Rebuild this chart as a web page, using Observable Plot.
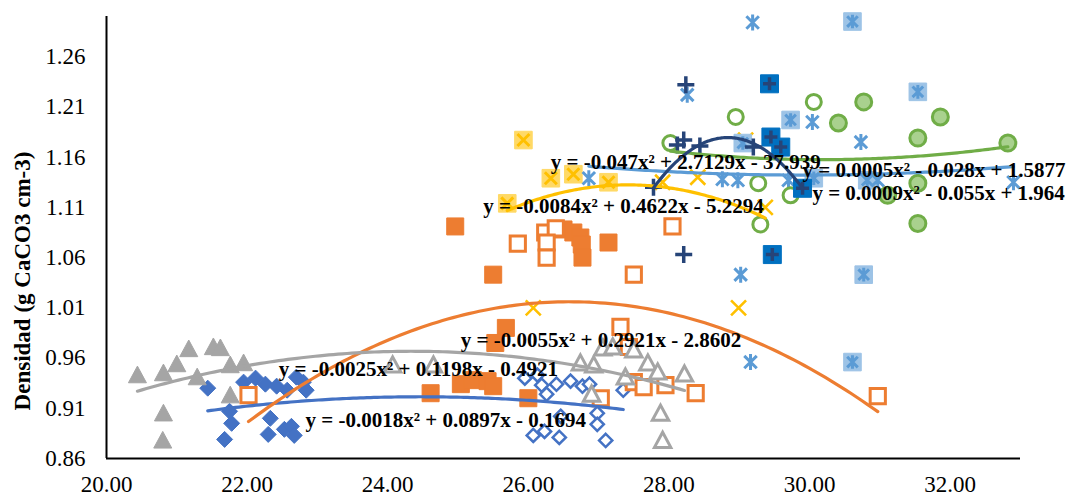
<!DOCTYPE html>
<html><head><meta charset="utf-8">
<script src="https://cdn.jsdelivr.net/npm/d3@7"></script>
<script src="https://cdn.jsdelivr.net/npm/@observablehq/plot@0.6"></script>
<style>
body{margin:0;background:#fff}
#wrap{position:relative;width:1072px;height:498px}
#chart svg{display:block}
#ytitle{position:absolute;left:23px;top:281px;transform:translate(-50%,-50%) rotate(-90deg);font:bold 23px 'Liberation Serif','Times New Roman',serif;white-space:nowrap;color:#000}
</style>
</head><body><div id="wrap"><div id="chart"></div><div id="ytitle"></div></div>
<script>
// ---- data (x = temperature-like variable, y = Densidad) ----
const xTicks = [20, 22, 24, 26, 28, 30, 32];
const yTicks = [0.86, 0.91, 0.96, 1.01, 1.06, 1.11, 1.16, 1.21, 1.26];
const yTitle = "Densidad (g CaCO3 cm-3)";

const blueSolid = [[21.44,0.930],[21.75,0.907],[21.78,0.895],[21.68,0.879],[21.95,0.936],[22.12,0.940],[22.26,0.934],[22.33,0.900],[22.30,0.884],[22.42,0.932],[22.57,0.928],[22.53,0.889],[22.63,0.892],[22.67,0.883],[22.70,0.941],[22.80,0.936],[22.84,0.928]];
const blueOpen = [[25.95,0.940],[26.13,0.943],[26.19,0.933],[26.40,0.934],[26.26,0.924],[26.60,0.937],[26.77,0.932],[26.87,0.934],[27.35,0.928],[26.07,0.883],[26.23,0.887],[26.44,0.881],[26.46,0.902],[26.98,0.905],[26.98,0.894],[27.10,0.878]];

const orangeSolid = [[24.96,1.091],[25.50,1.043],[26.50,1.088],[26.64,1.085],[26.74,1.080],[26.76,1.073],[26.77,1.060],[27.14,1.075],[25.68,0.990],[25.53,0.975],[24.61,0.925],[25.04,0.934],[25.21,0.938],[25.42,0.937],[25.50,0.932],[26.00,0.920]];
const orangeOpen = [[22.02,0.923],[25.85,1.074],[26.24,1.085],[26.39,1.089],[26.26,1.075],[26.26,1.060],[27.50,1.043],[28.05,1.091],[27.31,0.991],[27.43,0.971],[27.03,0.920],[27.50,0.936],[27.64,0.931],[27.95,0.933],[28.38,0.925],[30.97,0.922]];

const graySolid = [[20.44,0.943],[20.81,0.945],[20.81,0.905],[20.80,0.878],[21.00,0.954],[21.17,0.969],[21.29,0.941],[21.52,0.971],[21.62,0.970],[21.76,0.953],[21.95,0.955],[21.76,0.923]];
const grayOpen = [[24.07,0.953],[24.65,0.953],[26.74,0.955],[26.93,0.953],[27.06,0.970],[27.20,0.971],[27.50,0.968],[27.70,0.955],[27.38,0.941],[27.84,0.946],[28.22,0.944],[26.90,0.924],[27.88,0.905],[27.91,0.878]];

const yellowSolid = [[25.93,1.177],[26.32,1.139],[26.64,1.143],[27.14,1.135],[25.70,1.114]];
const yellowOpen = [[27.91,1.135],[28.41,1.140],[29.37,1.110],[26.07,1.010],[28.99,1.010],[29.09,1.177]];

const lightSolid = [[30.61,1.295],[31.54,1.225],[29.73,1.197],[29.05,1.174],[30.06,1.139],[30.82,1.137],[30.77,1.043],[30.61,0.956]];
const lightOpen = [[28.26,1.222],[26.86,1.139],[28.76,1.138],[28.98,1.137],[29.19,1.294],[30.04,1.195],[30.73,1.175],[29.70,1.137],[32.90,1.135],[29.02,1.043],[29.16,0.956],[30.97,1.137]];

const greenSolid = [[30.77,1.215],[30.41,1.194],[31.86,1.200],[31.54,1.179],[32.82,1.174],[31.54,1.134],[31.54,1.094],[31.11,1.122]];
const greenOpen = [[28.02,1.174],[28.95,1.200],[30.06,1.215],[29.27,1.134],[29.73,1.122],[29.30,1.093]];

const navySolid = [[29.43,1.233],[29.45,1.180],[29.59,1.170],[29.90,1.129],[29.47,1.063]];
const navyOpen = [[28.24,1.232],[28.21,1.177],[28.12,1.172],[28.44,1.171],[27.78,1.130],[28.21,1.063],[29.20,1.170]];

const eqTexts = [
  "y = -0.0018x\u00b2 + 0.0897x - 0.1694",
  "y = -0.0055x\u00b2 + 0.2921x - 2.8602",
  "y = -0.0025x\u00b2 + 0.1198x - 0.4921",
  "y = -0.0084x\u00b2 + 0.4622x - 5.2294",
  "y = 0.0005x\u00b2 - 0.028x + 1.5877",
  "y = 0.0009x\u00b2 - 0.055x + 1.964",
  "y = -0.047x\u00b2 + 2.7129x - 37.939"
];

// ---- layout (anchors of equation labels, in data units) ----
const eqAnchors = [[22.83,0.898],[25.04,0.978],[22.45,0.949],[25.36,1.111],[29.90,1.147],[30.04,1.124],[26.32,1.155]];

// ---- custom marker symbols (r = half-width) ----
const mk = f => ({draw(c, size){ f(c, Math.sqrt(size/Math.PI)); }});
const SQ = mk((c,h)=>{c.moveTo(-h,-h);c.lineTo(h,-h);c.lineTo(h,h);c.lineTo(-h,h);c.closePath();});
const DIA = mk((c,h)=>{c.moveTo(0,-h);c.lineTo(h,0);c.lineTo(0,h);c.lineTo(-h,0);c.closePath();});
const TRI = mk((c,h)=>{c.moveTo(0,-h);c.lineTo(h,h*0.85);c.lineTo(-h,h*0.85);c.closePath();});
const PLUS = mk((c,h)=>{c.moveTo(-h,0);c.lineTo(h,0);c.moveTo(0,-h);c.lineTo(0,h);});
const TIMES = mk((c,h)=>{c.moveTo(-h,-h);c.lineTo(h,h);c.moveTo(-h,h);c.lineTo(h,-h);});
const STAR = mk((c,h)=>{const k=h*0.78;c.moveTo(0,-h);c.lineTo(0,h);c.moveTo(-k,-k);c.lineTo(k,k);c.moveTo(-k,k);c.lineTo(k,-k);});
const CIRC = mk((c,h)=>{c.moveTo(h,0);c.arc(0,0,h,0,2*Math.PI);c.closePath();});

const groups = [
  {solid: blueSolid, open: blueOpen, color: "#4472C4",
   sStyle: [{sym: DIA, r: 8, fill: "#4472C4", stroke: "#4472C4", sw: 1}],
   oStyle: [{sym: DIA, r: 6.6, fill: "white", stroke: "#4472C4", sw: 2.5}]},
  {solid: orangeSolid, open: orangeOpen, color: "#ED7D31",
   sStyle: [{sym: SQ, r: 8.5, fill: "#ED7D31", stroke: "#ED7D31", sw: 1}],
   oStyle: [{sym: SQ, r: 7.6, fill: "white", stroke: "#ED7D31", sw: 3}]},
  {solid: graySolid, open: grayOpen, color: "#A5A5A5",
   sStyle: [{sym: TRI, r: 9, fill: "#A5A5A5", stroke: "#A5A5A5", sw: 1}],
   oStyle: [{sym: TRI, r: 8.2, fill: "white", stroke: "#A5A5A5", sw: 3}]},
  {solid: yellowSolid, open: yellowOpen, color: "#FFC000",
   sStyle: [{sym: SQ, r: 8.8, fill: "#FFD966", stroke: "#FFD966", sw: 1}, {sym: TIMES, r: 6, fill: "none", stroke: "#FFC000", sw: 3}],
   oStyle: [{sym: TIMES, r: 7.5, fill: "none", stroke: "#FFC000", sw: 2.6}]},
  {solid: lightSolid, open: lightOpen, color: "#5B9BD5",
   sStyle: [{sym: SQ, r: 8.8, fill: "#9DC3E6", stroke: "#9DC3E6", sw: 1}, {sym: STAR, r: 6.8, fill: "none", stroke: "#5B9BD5", sw: 3}],
   oStyle: [{sym: STAR, r: 8, fill: "none", stroke: "#5B9BD5", sw: 3}]},
  {solid: greenSolid, open: greenOpen, color: "#70AD47",
   sStyle: [{sym: CIRC, r: 8, fill: "#A9D18E", stroke: "#70AD47", sw: 3}],
   oStyle: [{sym: CIRC, r: 7.5, fill: "white", stroke: "#70AD47", sw: 3}]},
  {solid: navySolid, open: navyOpen, color: "#264478",
   sStyle: [{sym: SQ, r: 9, fill: "#0070C0", stroke: "#0070C0", sw: 1}, {sym: PLUS, r: 6.5, fill: "none", stroke: "#264478", sw: 3.5}],
   oStyle: [{sym: PLUS, r: 8.5, fill: "none", stroke: "#264478", sw: 3.5}]}
];

// quadratic least-squares trendline (like Excel polynomial order 2)
function quadFit(pts) {
  const m = d3.mean(pts, p => p[0]);
  const S = [[0,0,0],[0,0,0],[0,0,0]], T = [0,0,0];
  for (const [x0, y] of pts) {
    const u = x0 - m, v = [1, u, u*u];
    for (let i = 0; i < 3; i++) { T[i] += v[i]*y; for (let j = 0; j < 3; j++) S[i][j] += v[i]*v[j]; }
  }
  const A = S.map((row, i) => [...row, T[i]]);
  for (let i = 0; i < 3; i++) {
    let p = i; for (let k = i+1; k < 3; k++) if (Math.abs(A[k][i]) > Math.abs(A[p][i])) p = k;
    [A[i], A[p]] = [A[p], A[i]];
    for (let k = i+1; k < 3; k++) { const f = A[k][i]/A[i][i]; for (let j = i; j < 4; j++) A[k][j] -= f*A[i][j]; }
  }
  const c = [0,0,0];
  for (let i = 2; i >= 0; i--) { let s = A[i][3]; for (let j = i+1; j < 3; j++) s -= A[i][j]*c[j]; c[i] = s/A[i][i]; }
  const [xmin, xmax] = d3.extent(pts, p => p[0]);
  return d3.range(0, 121).map(i => { const x = xmin + (xmax-xmin)*i/120, u = x - m; return {x, y: c[0] + c[1]*u + c[2]*u*u}; });
}

const marks = [];
for (const g of groups) {
  for (const [pts, style] of [[g.solid, g.sStyle], [g.open, g.oStyle]]) {
    for (const L of style) {
      marks.push(Plot.dot(pts, {x: d => d[0], y: d => d[1], symbol: L.sym, r: L.r, fill: L.fill, stroke: L.stroke, strokeWidth: L.sw}));
    }
  }
}
for (const g of groups) {
  marks.push(Plot.line(quadFit([...g.solid, ...g.open]), {x: "x", y: "y", stroke: g.color, strokeWidth: 3.2, curve: "linear"}));
}
marks.push(Plot.text(eqTexts.map((t, i) => ({t, x: eqAnchors[i][0], y: eqAnchors[i][1]})), {
  x: "x", y: "y", text: "t", textAnchor: "start", lineAnchor: "middle", fontWeight: "bold", fontSize: 21, fill: "black"
}));
marks.push(Plot.ruleX([20], {stroke: "black", strokeWidth: 2}));
marks.push(Plot.ruleY([0.86], {stroke: "black", strokeWidth: 2}));
marks.push(Plot.axisX({ticks: xTicks, tickFormat: d3.format(".2f"), tickSize: 0, tickPadding: 17, label: null}));
marks.push(Plot.axisY({ticks: yTicks, tickFormat: d3.format(".2f"), tickSize: 0, tickPadding: 21, label: null}));

const chart = Plot.plot({
  width: 1072, height: 498,
  marginLeft: 106, marginRight: 52, marginTop: 16, marginBottom: 40,
  x: {domain: [20, 33]},
  y: {domain: [0.86, 1.30]},
  style: {fontFamily: "'Liberation Serif', 'Times New Roman', serif", fontSize: "23px", color: "black", background: "white"},
  marks
});
document.getElementById("chart").appendChild(chart);
document.getElementById("ytitle").textContent = yTitle;
</script>
</body></html>
